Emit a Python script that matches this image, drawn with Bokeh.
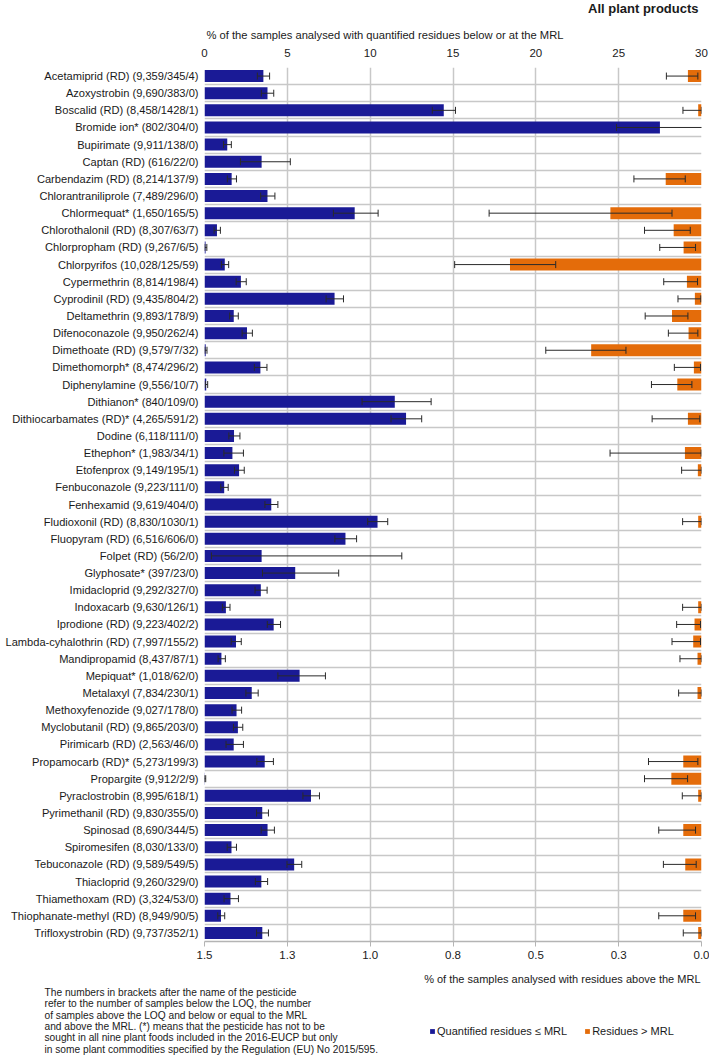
from bokeh.plotting import figure
from bokeh.layouts import column
from bokeh.models import (ColumnDataSource, FactorRange, Range1d, LinearAxis, FixedTicker,
                          Whisker, TeeHead, Legend, LegendItem)
from bokeh.core.properties import value
from bokeh.embed import file_html
from bokeh.resources import INLINE

# ---------------- data ----------------
pesticides = [
    "Acetamiprid (RD) (9,359/345/4)", "Azoxystrobin (9,690/383/0)", "Boscalid (RD) (8,458/1428/1)",
    "Bromide ion* (802/304/0)", "Bupirimate (9,911/138/0)", "Captan (RD) (616/22/0)",
    "Carbendazim (RD) (8,214/137/9)", "Chlorantraniliprole (7,489/296/0)", "Chlormequat* (1,650/165/5)",
    "Chlorothalonil (RD) (8,307/63/7)", "Chlorpropham (RD) (9,267/6/5)", "Chlorpyrifos (10,028/125/59)",
    "Cypermethrin (8,814/198/4)", "Cyprodinil (RD) (9,435/804/2)", "Deltamethrin (9,893/178/9)",
    "Difenoconazole (9,950/262/4)", "Dimethoate (RD) (9,579/7/32)", "Dimethomorph* (8,474/296/2)",
    "Diphenylamine (9,556/10/7)", "Dithianon* (840/109/0)", "Dithiocarbamates (RD)* (4,265/591/2)",
    "Dodine (6,118/111/0)", "Ethephon* (1,983/34/1)", "Etofenprox (9,149/195/1)",
    "Fenbuconazole (9,223/111/0)", "Fenhexamid (9,619/404/0)", "Fludioxonil (RD) (8,830/1030/1)",
    "Fluopyram (RD) (6,516/606/0)", "Folpet (RD) (56/2/0)", "Glyphosate* (397/23/0)",
    "Imidacloprid (9,292/327/0)", "Indoxacarb (9,630/126/1)", "Iprodione (RD) (9,223/402/2)",
    "Lambda-cyhalothrin (RD) (7,997/155/2)", "Mandipropamid (8,437/87/1)", "Mepiquat* (1,018/62/0)",
    "Metalaxyl (7,834/230/1)", "Methoxyfenozide (9,027/178/0)", "Myclobutanil (RD) (9,865/203/0)",
    "Pirimicarb (RD) (2,563/46/0)", "Propamocarb (RD)* (5,273/199/3)", "Propargite (9,912/2/9)",
    "Pyraclostrobin (8,995/618/1)", "Pyrimethanil (RD) (9,830/355/0)", "Spinosad (8,690/344/5)",
    "Spiromesifen (8,030/133/0)", "Tebuconazole (RD) (9,589/549/5)", "Thiacloprid (9,260/329/0)",
    "Thiamethoxam (RD) (3,324/53/0)", "Thiophanate-methyl (RD) (8,949/90/5)", "Trifloxystrobin (RD) (9,737/352/1)",
]

# % of samples with quantified residues <= MRL (top axis) and its error bar
blue_pct = [3.554, 3.802, 14.443, 27.49, 1.373, 3.448, 1.639, 3.802, 9.066, 0.752,
            0.065, 1.224, 2.196, 7.851, 1.766, 2.565, 0.073, 3.374, 0.104, 11.486,
            12.166, 1.782, 1.685, 2.087, 1.189, 4.031, 10.445, 8.509, 3.448, 5.476,
            3.400, 1.291, 4.176, 1.901, 1.021, 5.741, 2.852, 1.934, 2.016, 1.763,
            3.635, 0.020, 6.428, 3.486, 3.806, 1.629, 5.413, 3.431, 1.569, 0.995, 3.489]
blue_lo = [3.19, 3.43, 13.75, 24.87, 1.15, 2.17, 1.38, 3.39, 7.78, 0.58,
           0.024, 1.02, 1.91, 7.34, 1.52, 2.27, 0.029, 3.01, 0.050, 9.51,
           11.26, 1.47, 1.17, 1.81, 0.98, 3.65, 9.85, 7.87, 0.42, 3.50,
           3.05, 1.08, 3.79, 1.61, 0.82, 4.43, 2.50, 1.66, 1.75, 1.30,
           3.16, 0.002, 5.94, 3.14, 3.42, 1.37, 4.98, 3.07, 1.18, 0.80, 3.14]
blue_hi = [3.93, 4.18, 15.15, 30.2, 1.62, 5.18, 1.93, 4.25, 10.48, 0.96,
           0.141, 1.46, 2.52, 8.39, 2.04, 2.89, 0.150, 3.77, 0.192, 13.68,
           13.11, 2.14, 2.35, 2.40, 1.43, 4.43, 11.06, 9.18, 11.91, 8.10,
           3.78, 1.54, 4.59, 2.22, 1.26, 7.30, 3.24, 2.24, 2.31, 2.35,
           4.16, 0.073, 6.94, 3.86, 4.22, 1.93, 5.87, 3.81, 2.05, 1.22, 3.86]

# % of samples with residues > MRL (bottom axis, reversed) and its error bar (None = no bar)
orange_pct = [0.041, 0.0, 0.010, 0.0, 0.0, 0.0, 0.108, 0.0, 0.275, 0.084,
              0.054, 0.578, 0.044, 0.020, 0.089, 0.039, 0.333, 0.023, 0.073, 0.0,
              0.041, 0.0, 0.050, 0.011, 0.0, 0.0, 0.010, 0.0, 0.0, 0.0,
              0.0, 0.010, 0.021, 0.025, 0.012, 0.0, 0.012, 0.0, 0.0, 0.0,
              0.055, 0.091, 0.010, 0.0, 0.055, 0.0, 0.049, 0.0, 0.0, 0.055, 0.010]
orange_lo = [0.011, None, 0.0003, None, None, None, 0.049, None, 0.089, 0.034,
             0.018, 0.440, 0.012, 0.002, 0.041, 0.011, 0.228, 0.003, 0.029, None,
             0.005, None, 0.001, 0.0003, None, None, 0.0003, None, None, None,
             None, 0.0003, 0.003, 0.003, 0.0003, None, 0.0003, None, None, None,
             0.011, 0.042, 0.0003, None, 0.018, None, 0.016, None, None, 0.018, 0.0002]
orange_hi = [0.106, None, 0.056, None, None, None, 0.204, None, 0.641, 0.172,
             0.126, 0.745, 0.114, 0.071, 0.170, 0.100, 0.470, 0.082, 0.151, None,
             0.149, None, 0.276, 0.060, None, None, 0.057, None, None, None,
             None, 0.057, 0.075, 0.089, 0.065, None, 0.069, None, None, None,
             0.160, 0.172, 0.058, None, 0.129, None, 0.115, None, None, 0.129, 0.055]

top_ticks = [0, 5, 10, 15, 20, 25, 30]
bottom_ticks = [1.5, 1.25, 1.0, 0.75, 0.5, 0.25, 0.0]
bottom_tick_labels = ["1.5", "1.3", "1.0", "0.8", "0.5", "0.3", "0.0"]

title_text = "All plant products"
top_axis_title = "% of the samples analysed with quantified residues below or at the MRL"
bottom_axis_title = "% of the samples analysed with residues above the MRL"
legend_labels = ["Quantified residues \u2264 MRL", "Residues > MRL"]
footnote_lines = [
    "The numbers in brackets after the name of the pesticide",
    "refer to the number of samples below the LOQ, the number",
    "of samples above the LOQ and below or equal to the MRL",
    "and above the MRL.  (*) means that the pesticide has not to be",
    "sought in all nine plant foods included in the 2016-EUCP but only",
    "in some plant commodities specified by the Regulation (EU) No 2015/595.",
]

# ---------------- style ----------------
FONT = "Liberation Sans"
BLUE = "#1a1a96"
ORANGE = "#e46c0a"
GRID = "#c8c8c8"
TXT = "#1a1a1a"
ERR = "#2a2a2a"
W = 709
HEAD_H = 41
MAIN_H = 926
FOOT_H = 88
NAN = float("nan")


def blank(height):
    fig = figure(width=W, height=height, x_range=Range1d(0, W), y_range=Range1d(height, 0),
                 x_axis_type=None, y_axis_type=None,
                 output_backend="svg", toolbar_location=None,
                 min_border_left=0, min_border_right=0, min_border_top=0, min_border_bottom=0)
    fig.grid.visible = False
    fig.outline_line_color = None
    fig.title.visible = False
    return fig


# ---------------- header: title + top axis title ----------------
h = blank(HEAD_H)
h.text(x=[698], y=[8], text=[title_text], text_font=value(FONT), text_font_size="13px",
       text_font_style="bold", text_align="right", text_baseline="middle", text_color=TXT)
h.text(x=[206], y=[34], text=[top_axis_title], text_font=value(FONT), text_font_size="11.2px",
       text_align="left", text_baseline="middle", text_color=TXT)

# ---------------- main chart ----------------
p = figure(width=W, height=MAIN_H,
           x_range=Range1d(0, 30),
           y_range=FactorRange(factors=pesticides[::-1]),
           x_axis_location="above",
           output_backend="svg", toolbar_location=None,
           min_border_left=204, min_border_right=8, min_border_top=26, min_border_bottom=26)
p.extra_x_ranges = {"over": Range1d(start=1.5, end=0.0)}
p.outline_line_color = None
p.background_fill_color = "white"
p.title.visible = False

src = ColumnDataSource(dict(name=pesticides, blue=blue_pct, orange=orange_pct))
rb = p.hbar(y="name", left=0, right="blue", height=0.7, source=src,
            fill_color=BLUE, line_color=None)
ro = p.hbar(y="name", left=0, right="orange", height=0.7, source=src,
            fill_color=ORANGE, line_color=None, x_range_name="over")

bsrc = ColumnDataSource(dict(name=pesticides, lo=blue_lo, hi=blue_hi))
wb = Whisker(source=bsrc, base="name", lower="lo", upper="hi", dimension="width",
             line_color=ERR, line_width=1, level="annotation",
             upper_head=TeeHead(size=7, line_color=ERR, line_width=1),
             lower_head=TeeHead(size=7, line_color=ERR, line_width=1))
p.add_layout(wb)

keep = [i for i, v in enumerate(orange_lo) if v is not None]
osrc = ColumnDataSource(dict(name=[pesticides[i] for i in keep],
                             lo=[orange_lo[i] for i in keep],
                             hi=[orange_hi[i] for i in keep]))
wo = Whisker(source=osrc, base="name", lower="lo", upper="hi", dimension="width",
             line_color=ERR, line_width=1, level="annotation", x_range_name="over",
             upper_head=TeeHead(size=7, line_color=ERR, line_width=1),
             lower_head=TeeHead(size=7, line_color=ERR, line_width=1))
p.add_layout(wo)

# top axis
ta = p.xaxis[0]
ta.ticker = FixedTicker(ticks=top_ticks)
ta.axis_line_color = None
ta.major_tick_line_color = None
ta.major_tick_out = 0
ta.major_tick_in = 0
ta.minor_tick_line_color = None
ta.major_label_standoff = 11
ta.major_label_text_font = FONT
ta.major_label_text_font_size = "11.5px"
ta.major_label_text_color = TXT

# category axis
ya = p.yaxis[0]
ya.axis_line_color = None
ya.major_tick_line_color = None
ya.major_tick_out = 0
ya.major_tick_in = 0
ya.minor_tick_line_color = None
ya.major_label_standoff = 6
ya.major_label_text_font = FONT
ya.major_label_text_font_size = "11.1px"
ya.major_label_text_color = TXT

# bottom axis (reversed)
ba = LinearAxis(x_range_name="over", ticker=FixedTicker(ticks=bottom_ticks),
                major_label_overrides=dict(zip(bottom_ticks, bottom_tick_labels)))
ba.axis_line_color = "#b4b4b4"
ba.axis_line_width = 1.5
ba.major_tick_line_color = "#b4b4b4"
ba.major_tick_out = 5
ba.major_tick_in = 0
ba.minor_tick_line_color = None
ba.major_label_standoff = 4
ba.major_label_text_font = FONT
ba.major_label_text_font_size = "11.5px"
ba.major_label_text_color = TXT
p.add_layout(ba, "below")

# grids
p.xgrid.ticker = FixedTicker(ticks=top_ticks)
p.xgrid.grid_line_color = GRID
p.xgrid.grid_line_width = 1.5
p.ygrid.ticker = FixedTicker(ticks=list(range(len(pesticides) + 1)))
p.ygrid.grid_line_color = GRID
p.ygrid.grid_line_width = 1.5

# ---------------- footer: bottom axis title, note, legend ----------------
f = blank(FOOT_H)
f.text(x=[700], y=[11], text=[bottom_axis_title], text_font=value(FONT), text_font_size="11px",
       text_align="right", text_baseline="middle", text_color=TXT)

note_src = ColumnDataSource(dict(x=[44] * len(footnote_lines),
                                 y=[24.7 + 11.4 * k for k in range(len(footnote_lines))],
                                 t=footnote_lines))
f.text(x="x", y="y", text="t", source=note_src, text_font=value(FONT),
       text_font_size="10.2px", text_baseline="middle", text_align="left", text_color=TXT)

# legend-only renderers (one non-drawable row each, so only the legend swatch shows)
lb = f.quad(left=[NAN], right=[NAN], top=[NAN], bottom=[NAN], fill_color=BLUE, line_color=None)
lo_ = f.quad(left=[NAN], right=[NAN], top=[NAN], bottom=[NAN], fill_color=ORANGE, line_color=None)
legend = Legend(items=[LegendItem(label=legend_labels[0], renderers=[lb]),
                       LegendItem(label=legend_labels[1], renderers=[lo_])],
                orientation="horizontal", location=(429, 18),
                glyph_width=6, glyph_height=6, label_standoff=2, spacing=17,
                padding=0, margin=0, border_line_color=None, background_fill_alpha=0,
                label_text_font=FONT, label_text_font_size="11px", label_text_color=TXT,
                label_height=13)
f.add_layout(legend)

for fig in (h, p, f):
    try:
        fig.frame_align = False
    except Exception:
        pass

layout = column(h, p, f, spacing=0)
open("out.html", "w").write(file_html(layout, INLINE))
